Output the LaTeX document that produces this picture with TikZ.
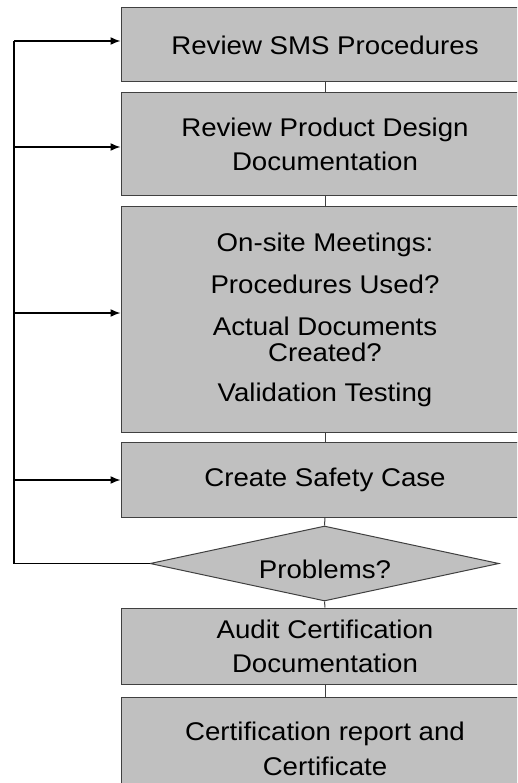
\documentclass[tikz,border=0pt]{standalone}
\usepackage{fontspec}
\setmainfont{Liberation Sans}[FakeStretch=1.08]
\usetikzlibrary{arrows.meta,shapes.geometric}
\definecolor{boxgray}{HTML}{C0C0C0}
\definecolor{edgegray}{HTML}{404040}
\begin{document}
\begin{tikzpicture}[x=1pt,y=-1pt,
  stepbox/.style={draw=edgegray,line width=1pt,fill=boxgray,rectangle,inner sep=0pt,
    minimum width=408pt,align=center,font=\fontsize{25.6}{26}\selectfont},
  decision/.style={draw=edgegray,line width=1pt,fill=boxgray,diamond,inner sep=0pt,
    minimum width=349pt,minimum height=75pt},
  link/.style={draw=edgegray,line width=1pt},
  feedback/.style={draw=black,line width=1.5pt},
  arrowed/.style={feedback,-{Latex[length=10pt,width=8pt]}}]
\useasboundingbox (0,0) rectangle (517,783);
\clip (0,0) rectangle (517,783);
\fill[white] (0,0) rectangle (517,783);
% boxes
\node[stepbox,minimum height=74pt] (b1) at (325,45) {Review SMS Procedures};
\node[stepbox,minimum height=103pt] (b2) at (325,144.5) {Review Product Design\\[8pt]Documentation};
\node[stepbox,minimum height=225pt] (b3) at (325,319.5) {On-site Meetings:\\[16pt]Procedures Used?\\[16pt]Actual Documents\\Created?\\[14pt]Validation Testing};
\node[stepbox,minimum height=75pt] (b4) at (325,479.5) {Create Safety Case};
\node[decision] (d) at (324.5,563.5) {};
\node[font=\fontsize{25.6}{26}\selectfont,inner sep=0pt] (dt) at (325,569) {Problems?};
\node[stepbox,minimum height=76pt] (b5) at (325,646) {Audit Certification\\[8pt]Documentation};
\node[stepbox,minimum height=103pt] (b6) at (325,748.5) {Certification report and\\[9pt]Certificate};
% vertical links
\draw[link] (b1.south) -- (b2.north);
\draw[link] (b2.south) -- (b3.north);
\draw[link] (b3.south) -- (b4.north);
\draw[link] (b4.south) -- (d.north);
\draw[link] (d.south) -- (b5.north);
\draw[link] (b5.south) -- (b6.north);
% feedback loop
\coordinate (t1) at (14,41);
\coordinate (t2) at (13,147);
\coordinate (t3) at (13,313);
\coordinate (t4) at (13,480);
\draw[feedback] (d.west) -- (d.west -| t1) -- (t1);
\draw[arrowed] (t1) -- (t1 -| b1.west);
\draw[arrowed] (t2) -- (t2 -| b2.west);
\draw[arrowed] (t3) -- (t3 -| b3.west);
\draw[arrowed] (t4) -- (t4 -| b4.west);
\end{tikzpicture}
\end{document}
